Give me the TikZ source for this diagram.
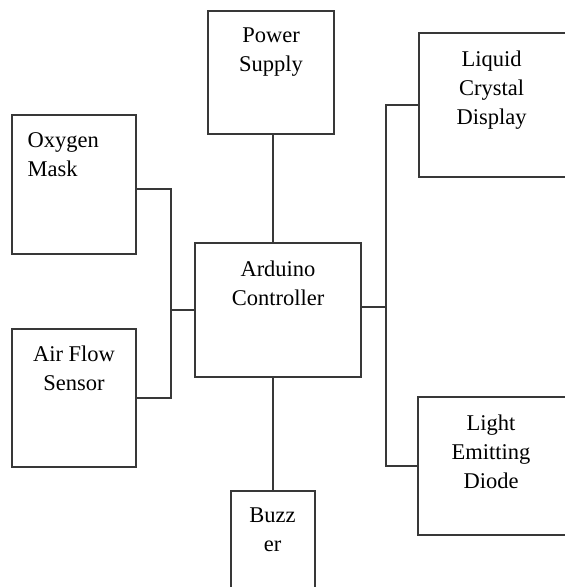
\documentclass[tikz,border=0pt]{standalone}
\usepackage{fontspec}
\setmainfont{Liberation Serif}
\begin{document}
\begin{tikzpicture}[x=1pt,y=-1pt,
  box/.style={draw=black!78,line width=1.3pt,inner sep=0pt,minimum width=#1},
  txt/.style={inner sep=0pt,align=center,font=\fontsize{22.5}{29}\selectfont,text=black},
  wire/.style={draw=black!78,line width=1.4pt}]
\useasboundingbox (0,0) rectangle (565,587);
\clip (0,0) rectangle (565,587);
\node[box=124pt,minimum height=139pt] (oxy) at (74,184.5) {};
\node[box=124pt,minimum height=138pt] (air) at (74,398) {};
\node[box=126pt,minimum height=123pt] (ps) at (271,72.5) {};
\node[box=166pt,minimum height=134pt] (ard) at (278,310) {};
\node[box=153pt,minimum height=144pt] (lcd) at (495.5,105) {};
\node[box=154pt,minimum height=138pt] (led) at (495,466) {};
\node[box=84pt,minimum height=119pt] (buz) at (273,550.5) {};
% texts
\node[txt,anchor=north west,align=left] (oxyt) at ([xshift=16pt,yshift=-13pt]oxy.north west) {\strut Oxygen\\\strut Mask};
\node[txt,anchor=north] (airt) at ([yshift=-12.5pt]air.north) {\strut Air Flow\\\strut Sensor};
\node[txt,anchor=north] (pst) at ([yshift=-11.5pt]ps.north) {\strut Power\\\strut Supply};
\node[txt,anchor=north] (ardt) at ([yshift=-14pt]ard.north) {\strut Arduino\\\strut Controller};
\node[txt,anchor=north] (lcdt) at ([xshift=-4pt,yshift=-14pt]lcd.north) {\strut Liquid\\\strut Crystal\\\strut Display};
\node[txt,anchor=north] (ledt) at ([xshift=-4pt,yshift=-14pt]led.north) {\strut Light\\\strut Emitting\\\strut Diode};
\node[txt,anchor=north] (buzt) at ([xshift=-0.5pt,yshift=-11.5pt]buz.north) {\strut Buzz\\\strut er};
% junctions
\coordinate (jl) at (171,310);
\coordinate (jr) at (386,307);
% wires
\draw[wire] ([yshift=-4.5pt]oxy.east) -| (jl) |- (air.east);
\draw[wire] (jl) -- (ard.west);
\draw[wire] (ard.east |- jr) -- (jr);
\draw[wire] (lcd.west) -| (jr) |- (led.west);
\draw[wire] ([xshift=2pt]ps.south) -- ([xshift=2pt]ps.south |- ard.north);
\draw[wire] (buz.north |- ard.south) -- (buz.north);
\end{tikzpicture}
\end{document}
